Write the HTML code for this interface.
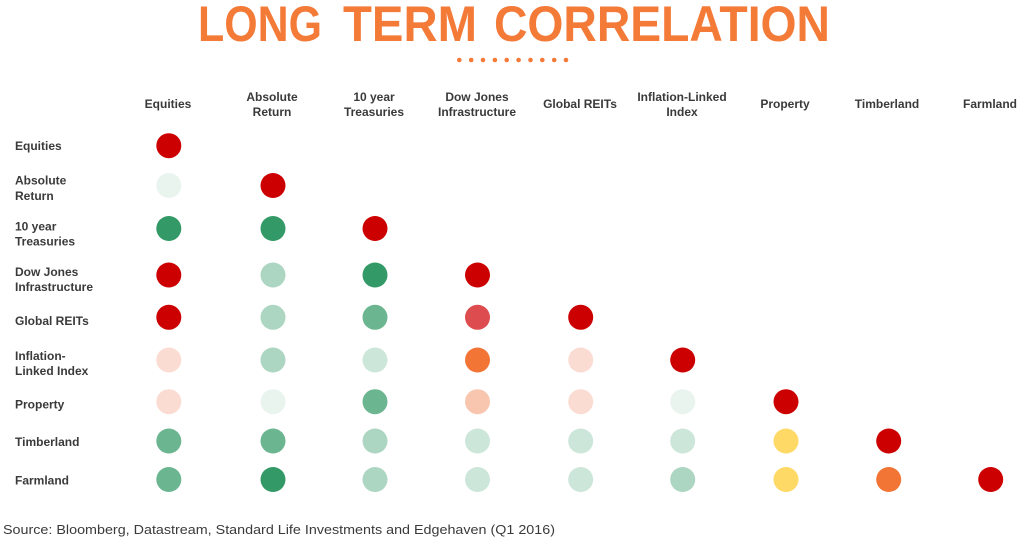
<!DOCTYPE html>
<html>
<head>
<meta charset="utf-8">
<style>
  html,body{margin:0;padding:0;background:#fff;}
  svg{display:block;}
  text{font-family:"Liberation Sans",Arial,sans-serif;}
  .h{font-size:12px;font-weight:bold;fill:#3a3a3a;text-anchor:middle;}
  .r{font-size:12px;font-weight:bold;fill:#3a3a3a;text-anchor:start;}
  .t{font-size:50px;font-weight:bold;fill:#F47A38;}
</style>
</head>
<body>
<svg width="1024" height="538" viewBox="0 0 1024 538" xmlns="http://www.w3.org/2000/svg">
  <rect width="1024" height="538" fill="#fff"/>
  <!-- Title -->
  <text class="t" x="198" y="41" textLength="124" lengthAdjust="spacingAndGlyphs">LONG</text>
  <text class="t" x="343" y="41" textLength="134" lengthAdjust="spacingAndGlyphs">TERM</text>
  <text class="t" x="494" y="41" textLength="336" lengthAdjust="spacingAndGlyphs">CORRELATION</text>
  <g fill="#F47A38">
    <circle cx="459.3" cy="60" r="2.3"/><circle cx="471.2" cy="60" r="2.3"/><circle cx="483" cy="60" r="2.3"/>
    <circle cx="494.9" cy="60" r="2.3"/><circle cx="506.7" cy="60" r="2.3"/><circle cx="518.6" cy="60" r="2.3"/>
    <circle cx="530.5" cy="60" r="2.3"/><circle cx="542.3" cy="60" r="2.3"/><circle cx="554.2" cy="60" r="2.3"/>
    <circle cx="566" cy="60" r="2.3"/>
  </g>

  <!-- Column headers -->
  <text class="h" x="168" y="108">Equities</text>
  <text class="h" x="272" y="101">Absolute</text><text class="h" x="272" y="116">Return</text>
  <text class="h" x="374" y="101">10 year</text><text class="h" x="374" y="116">Treasuries</text>
  <text class="h" x="477" y="101">Dow Jones</text><text class="h" x="477" y="116">Infrastructure</text>
  <text class="h" x="580" y="108">Global REITs</text>
  <text class="h" x="682" y="101">Inflation-Linked</text><text class="h" x="682" y="116">Index</text>
  <text class="h" x="785" y="108">Property</text>
  <text class="h" x="887" y="108">Timberland</text>
  <text class="h" x="990" y="108">Farmland</text>

  <!-- Row labels -->
  <text class="r" x="15" y="150">Equities</text>
  <text class="r" x="15" y="184.5">Absolute</text><text class="r" x="15" y="200">Return</text>
  <text class="r" x="15" y="230.5">10 year</text><text class="r" x="15" y="245.5">Treasuries</text>
  <text class="r" x="15" y="276">Dow Jones</text><text class="r" x="15" y="291">Infrastructure</text>
  <text class="r" x="15" y="325">Global REITs</text>
  <text class="r" x="15" y="360">Inflation-</text><text class="r" x="15" y="375">Linked Index</text>
  <text class="r" x="15" y="408.5">Property</text>
  <text class="r" x="15" y="446">Timberland</text>
  <text class="r" x="15" y="484.5">Farmland</text>

  <!-- Circles -->
  <g>
    <circle cx="168.8" cy="145.7" r="12.5" fill="#CC0000"/>
    <circle cx="168.8" cy="185.5" r="12.5" fill="#EAF4EF"/>
    <circle cx="273" cy="185.5" r="12.5" fill="#CC0000"/>
    <circle cx="168.8" cy="228.5" r="12.5" fill="#339966"/>
    <circle cx="273" cy="228.5" r="12.5" fill="#339966"/>
    <circle cx="375" cy="228.5" r="12.5" fill="#CC0000"/>
    <circle cx="168.8" cy="275" r="12.5" fill="#CC0000"/>
    <circle cx="273" cy="275" r="12.5" fill="#ACD6C1"/>
    <circle cx="375" cy="275" r="12.5" fill="#339966"/>
    <circle cx="477.5" cy="275" r="12.5" fill="#CC0000"/>
    <circle cx="168.8" cy="317.3" r="12.5" fill="#CC0000"/>
    <circle cx="273" cy="317.3" r="12.5" fill="#ACD6C1"/>
    <circle cx="375" cy="317.3" r="12.5" fill="#6BB690"/>
    <circle cx="477.5" cy="317.3" r="12.5" fill="#DD4D4F"/>
    <circle cx="580.7" cy="317.3" r="12.5" fill="#CC0000"/>
    <circle cx="168.8" cy="360" r="12.5" fill="#FBDCD2"/>
    <circle cx="273" cy="360" r="12.5" fill="#ACD6C1"/>
    <circle cx="375" cy="360" r="12.5" fill="#CCE6D9"/>
    <circle cx="477.5" cy="360" r="12.5" fill="#F27536"/>
    <circle cx="580.7" cy="360" r="12.5" fill="#FBDCD2"/>
    <circle cx="682.7" cy="360" r="12.5" fill="#CC0000"/>
    <circle cx="168.8" cy="401.7" r="12.5" fill="#FBDCD2"/>
    <circle cx="273" cy="401.7" r="12.5" fill="#EAF4EF"/>
    <circle cx="375" cy="401.7" r="12.5" fill="#6BB690"/>
    <circle cx="477.5" cy="401.7" r="12.5" fill="#F8C6AF"/>
    <circle cx="580.7" cy="401.7" r="12.5" fill="#FBDCD2"/>
    <circle cx="682.7" cy="401.7" r="12.5" fill="#EAF4EF"/>
    <circle cx="786" cy="401.7" r="12.5" fill="#CC0000"/>
    <circle cx="168.8" cy="441" r="12.5" fill="#6BB690"/>
    <circle cx="273" cy="441" r="12.5" fill="#6BB690"/>
    <circle cx="375" cy="441" r="12.5" fill="#ACD6C1"/>
    <circle cx="477.5" cy="441" r="12.5" fill="#CCE6D9"/>
    <circle cx="580.7" cy="441" r="12.5" fill="#CCE6D9"/>
    <circle cx="682.7" cy="441" r="12.5" fill="#CCE6D9"/>
    <circle cx="786" cy="441" r="12.5" fill="#FFD966"/>
    <circle cx="888.7" cy="441" r="12.5" fill="#CC0000"/>
    <circle cx="168.8" cy="479.5" r="12.5" fill="#6BB690"/>
    <circle cx="273" cy="479.5" r="12.5" fill="#339966"/>
    <circle cx="375" cy="479.5" r="12.5" fill="#ACD6C1"/>
    <circle cx="477.5" cy="479.5" r="12.5" fill="#CCE6D9"/>
    <circle cx="580.7" cy="479.5" r="12.5" fill="#CCE6D9"/>
    <circle cx="682.7" cy="479.5" r="12.5" fill="#ACD6C1"/>
    <circle cx="786" cy="479.5" r="12.5" fill="#FFD966"/>
    <circle cx="888.7" cy="479.5" r="12.5" fill="#F27536"/>
    <circle cx="990.7" cy="479.5" r="12.5" fill="#CC0000"/>
  </g>

  <!-- Source -->
  <text x="3" y="534" font-size="13" fill="#3a3a3a" textLength="552" lengthAdjust="spacingAndGlyphs">Source: Bloomberg, Datastream, Standard Life Investments and Edgehaven (Q1 2016)</text>
</svg>
</body>
</html>
